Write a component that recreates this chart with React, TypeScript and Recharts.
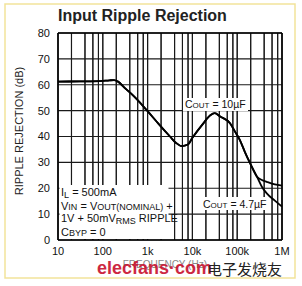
import React from "react";
import { LineChart, Line, XAxis, YAxis, CartesianGrid, ReferenceLine } from "recharts";

// Frequency (Hz) sample points
const freqHz = [10, 31, 87, 141, 178, 219, 316, 479, 977, 1778, 3162, 4266, 5754, 7943, 10000, 17378, 25119, 31623, 41687, 69183, 89125, 114815, 147911, 194984, 275423, 354813, 457088, 691831, 1000000];
// Ripple rejection (dB), COUT = 10uF
const cout10uF = [61.2, 61.3, 61.4, 61.7, 61.8, 61.2, 58.6, 55.8, 50.0, 44.8, 40.0, 37.6, 36.3, 36.9, 39.5, 45.0, 48.2, 49.0, 47.7, 45.1, 41.9, 38.6, 34.1, 29.6, 24.5, 23.2, 22.5, 21.5, 21.0];
// Ripple rejection (dB), COUT = 4.7uF
const cout4u7F = [61.2, 61.3, 61.4, 61.7, 61.8, 61.2, 58.6, 55.8, 50.0, 44.8, 40.0, 37.6, 36.3, 36.9, 39.5, 45.0, 48.2, 49.0, 47.7, 45.1, 41.9, 38.6, 34.1, 29.6, 24.5, 20.6, 18.0, 15.2, 12.9];

const xTicks = [10, 20, 40, 60, 80, 100, 200, 400, 600, 800, 1000, 2000, 4000, 6000, 8000, 10000, 20000, 40000, 60000, 80000, 100000, 200000, 400000, 600000, 800000, 1000000];
const xTickLabels: Record<number, string> = { 10: "10", 100: "100", 1000: "1k", 10000: "10k", 100000: "100k", 1000000: "1M" };
const yTicks = [0, 10, 20, 30, 40, 50, 60, 70, 80];

const data = freqHz.map((f, i) => ({ f, c10: cout10uF[i], c47: cout4u7F[i] }));

const SANS = "'Liberation Sans', Arial, sans-serif";
const NARROW = "'Liberation Sans Narrow', 'Liberation Sans', Arial, sans-serif";

export default function App() {
  return (
    <div style={{ position: "absolute", left: 0, top: 0, width: 302, height: 286, background: "#fff" }}>
      <LineChart width={302} height={286} data={data} margin={{ top: 33, right: 20, bottom: 16, left: 0 }}>
        <CartesianGrid stroke="#1a1a1a" strokeWidth={1.1} />
        {xTicks.map((t) => (
          <ReferenceLine key={"v" + t} x={t} stroke="#1a1a1a" strokeWidth={1.1} />
        ))}
        <XAxis
          dataKey="f"
          type="number"
          scale="log"
          domain={[10, 1000000]}
          ticks={xTicks}
          interval={0}
          height={30}
          tickSize={0}
          axisLine={{ stroke: "#000", strokeWidth: 1.3 }}
          tickMargin={7}
          tick={{ fill: "#111", fontSize: 11, fontFamily: SANS }}
          tickFormatter={(v: number) => xTickLabels[v] ?? ""}
        />
        <YAxis
          type="number"
          domain={[0, 80]}
          ticks={yTicks}
          width={58}
          tickSize={0}
          axisLine={{ stroke: "#000", strokeWidth: 1.3 }}
          tickMargin={8}
          tick={{ fill: "#111", fontSize: 11, fontFamily: SANS }}
        />
        <Line type="monotone" dataKey="c47" stroke="#000" strokeWidth={1.8} dot={false} isAnimationActive={false} />
        <Line type="monotone" dataKey="c10" stroke="#000" strokeWidth={1.8} dot={false} isAnimationActive={false} />
      </LineChart>
      <svg width={302} height={286} style={{ position: "absolute", left: 0, top: 0, pointerEvents: "none" }}>
        <rect x={5} y={4} width={290} height={274} fill="none" stroke="#f2e39a" strokeWidth={1.5} />
        <line x1={282} y1={33} x2={282} y2={240} stroke="#000" strokeWidth={1.3} />
        <line x1={58} y1={33} x2={282} y2={33} stroke="#000" strokeWidth={1.3} />
        <text x={58} y={21} fontFamily={NARROW} fontWeight="bold" fontSize={16} fill="#222">Input Ripple Rejection</text>
        <text transform="translate(23,131) rotate(-90)" textAnchor="middle" fontFamily={NARROW} fontSize={11} fill="#222">RIPPLE REJECTION (dB)</text>

        <rect x={183} y={98} width={65} height={13} fill="#fff" />
        <text x={185} y={108} fontFamily={NARROW} fontSize={10.5} fill="#111">C<tspan fontSize={8}>OUT</tspan> = 10µF</text>

        <rect x={202} y={197} width={64} height={13} fill="#fff" />
        <text x={203} y={208} fontFamily={NARROW} fontSize={10.5} fill="#111">C<tspan fontSize={8}>OUT</tspan> = 4.7µF</text>

        <rect x={59.5} y={185} width={109} height={54} fill="#fff" />
        <text x={61} y={196} fontFamily={NARROW} fontSize={11} fill="#111">I<tspan fontSize={9} dy={2}>L</tspan><tspan dy={-2}> = 500mA</tspan></text>
        <text x={61} y={209.5} fontFamily={NARROW} fontSize={11} fill="#111">V<tspan fontSize={9}>IN</tspan> = V<tspan fontSize={9}>OUT(NOMINAL)</tspan> +</text>
        <text x={61} y={222} fontFamily={NARROW} fontSize={11} fill="#111">1V + 50mV<tspan fontSize={9} dy={1.5}>RMS</tspan><tspan dy={-1.5}> RIPPLE</tspan></text>
        <text x={61} y={236} fontFamily={NARROW} fontSize={11} fill="#111">C<tspan fontSize={9}>BYP</tspan> = 0</text>

        <text x={207} y={268} textAnchor="end" fontFamily={NARROW} fontSize={10} fill="#888">FREQUENCY (Hz)</text>
        <text x={97} y={274} fontFamily={SANS} fontWeight="bold" fontSize={18} fill="#c8102e" opacity={0.9}>elecfans·com</text>
        <text x={207} y={275} fontFamily="'Noto Sans CJK SC', sans-serif" fontSize={15} fill="#222">电子发烧友</text>
      </svg>
    </div>
  );
}
